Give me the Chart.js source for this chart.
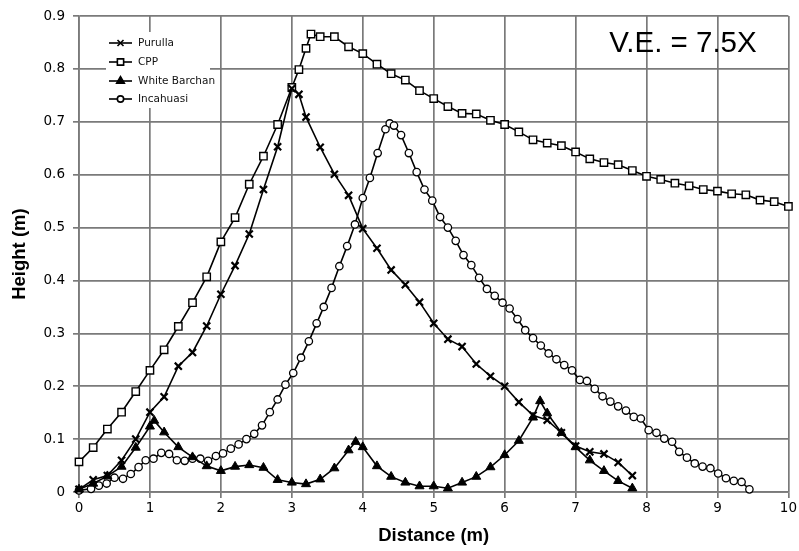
<!DOCTYPE html>
<html>
<head>
<meta charset="utf-8">
<script src="https://cdn.jsdelivr.net/npm/chart.js@4"></script>
<style>
  html, body { margin: 0; padding: 0; background: #fff; }
  #wrap { width: 799px; height: 551px; }
</style>
</head>
<body>
<div id="wrap"><canvas id="myChart" width="799" height="551"></canvas></div>
<script>
// series (distance in m, height in m)
const purullaX = [0, 0.2, 0.4, 0.6, 0.8, 1.0, 1.2, 1.4, 1.6, 1.8, 2.0, 2.2, 2.4, 2.6, 2.8, 3.0, 3.1, 3.2, 3.4, 3.6, 3.8, 4.0, 4.2, 4.4, 4.6, 4.8, 5.0, 5.2, 5.4, 5.6, 5.8, 6.0, 6.2, 6.4, 6.6, 6.8, 7.0, 7.2, 7.4, 7.6, 7.8];
const purullaY = [0.005, 0.023, 0.031, 0.06, 0.1, 0.151, 0.18, 0.238, 0.264, 0.314, 0.374, 0.428, 0.488, 0.572, 0.653, 0.763, 0.752, 0.709, 0.652, 0.601, 0.561, 0.498, 0.461, 0.42, 0.392, 0.359, 0.319, 0.289, 0.275, 0.242, 0.219, 0.2, 0.17, 0.145, 0.136, 0.112, 0.087, 0.076, 0.072, 0.056, 0.031];

const cppX = [0, 0.2, 0.4, 0.6, 0.8, 1.0, 1.2, 1.4, 1.6, 1.8, 2.0, 2.2, 2.4, 2.6, 2.8, 3.0, 3.1, 3.2, 3.27, 3.4, 3.6, 3.8, 4.0, 4.2, 4.4, 4.6, 4.8, 5.0, 5.2, 5.4, 5.6, 5.8, 6.0, 6.2, 6.4, 6.6, 6.8, 7.0, 7.2, 7.4, 7.6, 7.8, 8.0, 8.2, 8.4, 8.6, 8.8, 9.0, 9.2, 9.4, 9.6, 9.8, 10.0];
const cppY = [0.057, 0.084, 0.119, 0.151, 0.19, 0.23, 0.269, 0.313, 0.358, 0.407, 0.473, 0.519, 0.582, 0.635, 0.695, 0.765, 0.799, 0.839, 0.866, 0.861, 0.861, 0.842, 0.829, 0.809, 0.791, 0.779, 0.759, 0.744, 0.729, 0.716, 0.715, 0.703, 0.695, 0.681, 0.666, 0.66, 0.655, 0.643, 0.63, 0.623, 0.619, 0.608, 0.597, 0.591, 0.584, 0.579, 0.572, 0.569, 0.564, 0.562, 0.552, 0.549, 0.54];

const barchanX = [0, 0.2, 0.4, 0.6, 0.8, 1.0, 1.06, 1.2, 1.4, 1.6, 1.8, 2.0, 2.2, 2.4, 2.6, 2.8, 3.0, 3.2, 3.4, 3.6, 3.8, 3.9, 4.0, 4.2, 4.4, 4.6, 4.8, 5.0, 5.2, 5.4, 5.6, 5.8, 6.0, 6.2, 6.4, 6.5, 6.6, 6.8, 7.0, 7.2, 7.4, 7.6, 7.8];
const barchanY = [0.005, 0.016, 0.03, 0.048, 0.084, 0.124, 0.135, 0.113, 0.085, 0.066, 0.049, 0.04, 0.048, 0.051, 0.046, 0.023, 0.018, 0.015, 0.024, 0.045, 0.079, 0.095, 0.085, 0.049, 0.029, 0.018, 0.011, 0.011, 0.007, 0.018, 0.029, 0.047, 0.07, 0.097, 0.141, 0.172, 0.149, 0.112, 0.085, 0.06, 0.04, 0.021, 0.007];

const incaX = [0, 0.17, 0.28, 0.39, 0.5, 0.62, 0.73, 0.84, 0.94, 1.05, 1.16, 1.27, 1.38, 1.49, 1.6, 1.71, 1.82, 1.93, 2.03, 2.14, 2.25, 2.36, 2.47, 2.58, 2.69, 2.8, 2.91, 3.02, 3.13, 3.24, 3.35, 3.45, 3.56, 3.67, 3.78, 3.89, 4.0, 4.1, 4.21, 4.32, 4.38, 4.44, 4.54, 4.65, 4.76, 4.87, 4.98, 5.09, 5.2, 5.31, 5.42, 5.53, 5.64, 5.75, 5.86, 5.97, 6.07, 6.18, 6.29, 6.4, 6.51, 6.62, 6.73, 6.84, 6.95, 7.06, 7.16, 7.27, 7.38, 7.49, 7.6, 7.71, 7.82, 7.92, 8.03, 8.14, 8.25, 8.36, 8.46, 8.57, 8.68, 8.79, 8.9, 9.01, 9.12, 9.23, 9.34, 9.45];
const incaY = [0.003, 0.006, 0.012, 0.016, 0.027, 0.025, 0.034, 0.047, 0.06, 0.063, 0.074, 0.072, 0.06, 0.059, 0.063, 0.063, 0.059, 0.068, 0.073, 0.082, 0.09, 0.1, 0.11, 0.126, 0.151, 0.175, 0.203, 0.225, 0.254, 0.285, 0.319, 0.35, 0.386, 0.427, 0.465, 0.506, 0.556, 0.594, 0.641, 0.686, 0.697, 0.693, 0.675, 0.641, 0.605, 0.572, 0.551, 0.52, 0.5, 0.475, 0.448, 0.429, 0.405, 0.384, 0.371, 0.358, 0.347, 0.327, 0.306, 0.291, 0.277, 0.262, 0.251, 0.24, 0.23, 0.212, 0.21, 0.195, 0.181, 0.171, 0.162, 0.154, 0.142, 0.139, 0.117, 0.112, 0.101, 0.095, 0.076, 0.065, 0.054, 0.048, 0.045, 0.035, 0.026, 0.021, 0.019, 0.005];

const seriesNames = ['Purulla', 'CPP', 'White Barchan', 'Incahuasi'];
const xTicks = [0, 1, 2, 3, 4, 5, 6, 7, 8, 9, 10];
const yTicks = [0, 0.1, 0.2, 0.3, 0.4, 0.5, 0.6, 0.7, 0.8, 0.9];

function pts(xs, ys) {
  return xs.map((x, i) => ({ x: x, y: ys[i] }));
}

const gridCol = '#7a7a7a';

const styles = [
  { pointStyle: 'crossRot', pointRadius: 5, pointBorderWidth: 2.2, bg: '#000' },
  { pointStyle: 'rect', pointRadius: 5.2, pointBorderWidth: 1.4, bg: '#fff' },
  { pointStyle: 'triangle', pointRadius: 5.2, pointBorderWidth: 1, bg: '#000' },
  { pointStyle: 'circle', pointRadius: 3.7, pointBorderWidth: 1.3, bg: '#fff' }
];

const allData = [pts(purullaX, purullaY), pts(cppX, cppY), pts(barchanX, barchanY), pts(incaX, incaY)];

const datasets = allData.map((d, i) => ({
  label: seriesNames[i],
  data: d,
  borderColor: '#000',
  borderWidth: 1.6,
  pointStyle: styles[i].pointStyle,
  pointRadius: styles[i].pointRadius,
  pointBorderWidth: styles[i].pointBorderWidth,
  pointBackgroundColor: styles[i].bg,
  pointBorderColor: '#000',
  tension: 0,
  clip: false
}));

// legend box sitting inside the plot, white so it hides the grid
const boxLegend = {
  id: 'boxLegend',
  beforeDatasetsDraw(chart) {
    const ctx = chart.ctx;
    ctx.save();
    ctx.fillStyle = '#fff';
    ctx.fillRect(106, 32, 104, 76);
    const rows = [43, 62, 81, 99];
    chart.data.datasets.forEach((ds, i) => {
      const y = rows[i];
      ctx.strokeStyle = '#000';
      ctx.lineWidth = 1.6;
      ctx.beginPath();
      ctx.moveTo(109, y);
      ctx.lineTo(132, y);
      ctx.stroke();
      ctx.fillStyle = ds.pointBackgroundColor;
      Chart.helpers.drawPoint(ctx, {
        pointStyle: ds.pointStyle,
        radius: ds.pointRadius * 0.85,
        borderWidth: ds.pointBorderWidth,
        rotation: 0
      }, 120.5, y);
      ctx.fillStyle = '#111';
      ctx.font = '10.5px "DejaVu Sans"';
      ctx.textBaseline = 'middle';
      ctx.textAlign = 'left';
      ctx.fillText(ds.label, 138, y + 0.5);
    });
    ctx.restore();
  },
  afterDraw(chart) {
    const ctx = chart.ctx;
    ctx.save();
    ctx.fillStyle = '#000';
    ctx.font = '29.5px "Liberation Sans"';
    ctx.textAlign = 'center';
    ctx.textBaseline = 'middle';
    ctx.fillText('V.E. = 7.5X', 683, 44);
    ctx.restore();
  }
};

var ctx = document.getElementById('myChart').getContext('2d');
var myChart = new Chart(ctx, {
  type: 'line',
  data: { datasets: datasets },
  plugins: [boxLegend],
  options: {
    responsive: false,
    animation: false,
    layout: { padding: { top: 14, right: 10, left: 0, bottom: 0 } },
    plugins: {
      legend: { display: false },
      tooltip: { enabled: false }
    },
    scales: {
      x: {
        type: 'linear',
        min: 0, max: 10,
        afterBuildTicks: (s) => { s.ticks = xTicks.map(v => ({ value: v })); },
        afterFit: (s) => { s.height = 59; },
        grid: { color: gridCol, lineWidth: 1.7, tickLength: 6 },
        border: { color: gridCol, width: 1.7 },
        ticks: { color: '#000', font: { family: 'DejaVu Sans', size: 13.5 }, padding: 2, maxRotation: 0 },
        title: { display: true, text: 'Distance (m)', color: '#000', font: { family: 'Liberation Sans', size: 18.5, weight: 'bold' }, padding: { top: 3 } }
      },
      y: {
        min: 0, max: 0.9,
        afterBuildTicks: (s) => { s.ticks = yTicks.map(v => ({ value: v })); },
        afterFit: (s) => { s.width = 79; },
        grid: { color: gridCol, lineWidth: 1.7, tickLength: 6 },
        border: { color: gridCol, width: 1.7 },
        ticks: { color: '#000', font: { family: 'DejaVu Sans', size: 13.5 }, padding: 8 },
        title: { display: true, text: 'Height (m)', color: '#000', font: { family: 'Liberation Sans', size: 18.5, weight: 'bold' }, padding: { top: 9, bottom: 0 } }
      }
    }
  }
});
</script>
</body>
</html>
